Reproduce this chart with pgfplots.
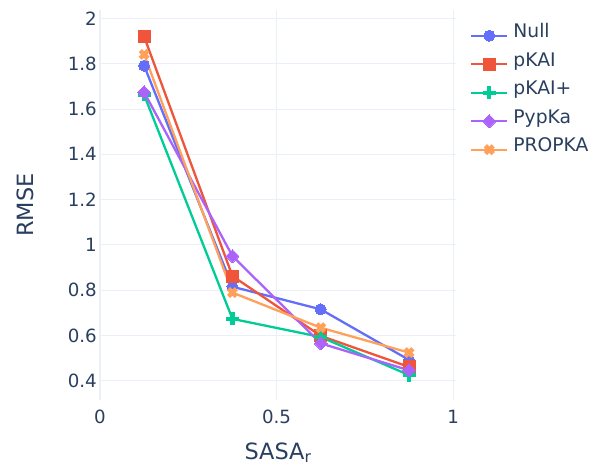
\documentclass[border=0pt]{standalone}
\usepackage{fontspec}
\setmainfont{DejaVu Sans}
\usepackage{pgfplots}
\pgfplotsset{compat=1.18}
\definecolor{cNull}{HTML}{636EFA}
\definecolor{cpKAI}{HTML}{EF553B}
\definecolor{cpKAIp}{HTML}{00CC96}
\definecolor{cPypKa}{HTML}{AB63FA}
\definecolor{cPROPKA}{HTML}{FFA15A}
\definecolor{textc}{HTML}{2A3F5F}
\definecolor{gridc}{HTML}{EBF0F8}
\begin{document}
\begin{tikzpicture}
\begin{axis}[
  at={(0,0)}, anchor=south west,
  scale only axis, width=356bp, height=390bp,
  xmin=0, xmax=1.008, ymin=0.316, ymax=2.037,
  axis line style={draw=none},
  tick style={draw=none}, major tick length=0pt,
  xtick={0,0.5,1}, xticklabels={0,0.5,1},
  ytick={0.4,0.6,0.8,1,1.2,1.4,1.6,1.8,2},
  yticklabels={0.4,0.6,0.8,1,1.2,1.4,1.6,1.8,2},
  /pgf/number format/assume math mode=true,
  ticklabel style={font=\fontsize{18.3}{20}\selectfont, text=textc},
  yticklabel style={inner sep=0pt, xshift=-3bp},
  xticklabel style={inner sep=0pt, anchor=north, yshift=-10bp},
  grid=major, major grid style={gridc, line width=1bp},
  extra x ticks={0}, extra x tick labels={},
  extra x tick style={grid=major, major grid style={gridc, line width=2bp}},
  xlabel={SASA\textsubscript{r}},
  ylabel={RMSE},
  label style={font=\fontsize{22.5}{24}\selectfont, text=textc},
  xlabel style={at={(axis description cs:0.5,0)}, anchor=base, yshift=-59bp},
  ylabel style={at={(axis description cs:-0.2107,0.5)}, anchor=center},
  legend style={at={(1,1)}, anchor=north west, xshift=14bp, yshift=-13.5bp,
    draw=none, fill=none, inner sep=0pt, row sep=9.5bp,
    font=\fontsize{18.8}{20}\selectfont, text=textc,
    nodes={inner sep=0pt, text height=14bp, text depth=5bp, anchor=base west}},
  legend cell align=left,
  legend image code/.code={\begin{scope}[yshift=2bp]\draw[#1, line width=2.2bp, mark repeat=2, mark phase=2] plot coordinates {(0bp,0bp) (18bp,0bp) (36bp,0bp)};\end{scope}},
]
\addplot[cNull, line width=2.3bp, mark=*, mark size=5.5bp, mark options={line width=0pt}] coordinates {(0.125,1.791) (0.375,0.816) (0.625,0.716) (0.875,0.493)};
\addlegendentry{\hspace*{5bp}Null}
\addplot[cpKAI, line width=2.3bp, mark=square*, mark size=6bp, mark options={line width=0pt}] coordinates {(0.125,1.919) (0.375,0.863) (0.625,0.599) (0.875,0.462)};
\addlegendentry{\hspace*{5bp}pKAI}
\addplot[cpKAIp, line width=2.3bp, mark=+, mark size=6.5bp, mark options={line width=4.2bp}] coordinates {(0.125,1.662) (0.375,0.674) (0.625,0.594) (0.875,0.426)};
\addlegendentry{\hspace*{5bp}pKAI+}
\addplot[cPypKa, line width=2.3bp, mark=square*, mark size=4.6bp, mark options={rotate=45, line width=0pt}] coordinates {(0.125,1.674) (0.375,0.951) (0.625,0.566) (0.875,0.447)};
\addlegendentry{\hspace*{5bp}PypKa}
\addplot[cPROPKA, line width=2.3bp, mark=x, mark size=5.5bp, mark options={line width=4.5bp}] coordinates {(0.125,1.841) (0.375,0.790) (0.625,0.635) (0.875,0.525)};
\addlegendentry{\hspace*{5bp}PROPKA}
\end{axis}
\pgfresetboundingbox
\path (-100bp,-67bp) rectangle (494bp,400bp);
\end{tikzpicture}
\end{document}
